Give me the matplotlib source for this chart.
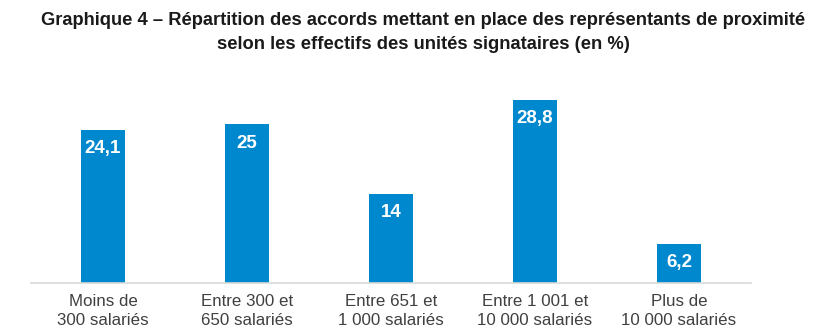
import matplotlib
matplotlib.use("Agg")
import matplotlib.pyplot as plt

categories = ["Moins de\n300 salariés", "Entre 300 et\n650 salariés", "Entre 651 et\n1 000 salariés",
              "Entre 1 001 et\n10 000 salariés", "Plus de\n10 000 salariés"]
values = [24.1, 25, 14, 28.8, 6.2]
value_labels = ["24,1", "25", "14", "28,8", "6,2"]

plt.rcParams['font.family'] = ['Liberation Sans', 'DejaVu Sans']

fig = plt.figure(figsize=(8.32, 3.34), dpi=100)
ax = fig.add_axes([0.0373, 0.1527, 0.8653, 0.6078])

x = range(len(values))
bars = ax.bar(x, values, width=0.31, color="#0088CE", zorder=2)

for b, lab in zip(bars, value_labels):
    ax.text(b.get_x() + b.get_width() / 2, b.get_height() - 1.6, lab,
            ha="center", va="top", color="white", fontsize=13.5, fontweight="bold")

ax.set_xlim(-0.5, 4.5)
ax.set_ylim(0, 32)
ax.set_yticks([])
ax.set_xticks(list(x))
ax.set_xticklabels(categories, fontsize=12.2, color="#404040", linespacing=1.3)
ax.tick_params(axis="x", length=0, pad=8)
for s in ["top", "right", "left"]:
    ax.spines[s].set_visible(False)
ax.spines["bottom"].set_color("#D9D9D9")
ax.spines["bottom"].set_linewidth(1.2)

fig.text(0.509, 0.902, "Graphique 4 – Répartition des accords mettant en place des représentants de proximité\n"
         "selon les effectifs des unités signataires (en %)",
         ha="center", va="center", fontsize=13.2, fontweight="bold", color="#1a1a1a", linespacing=1.5)

fig.savefig("out.png", dpi=100)
